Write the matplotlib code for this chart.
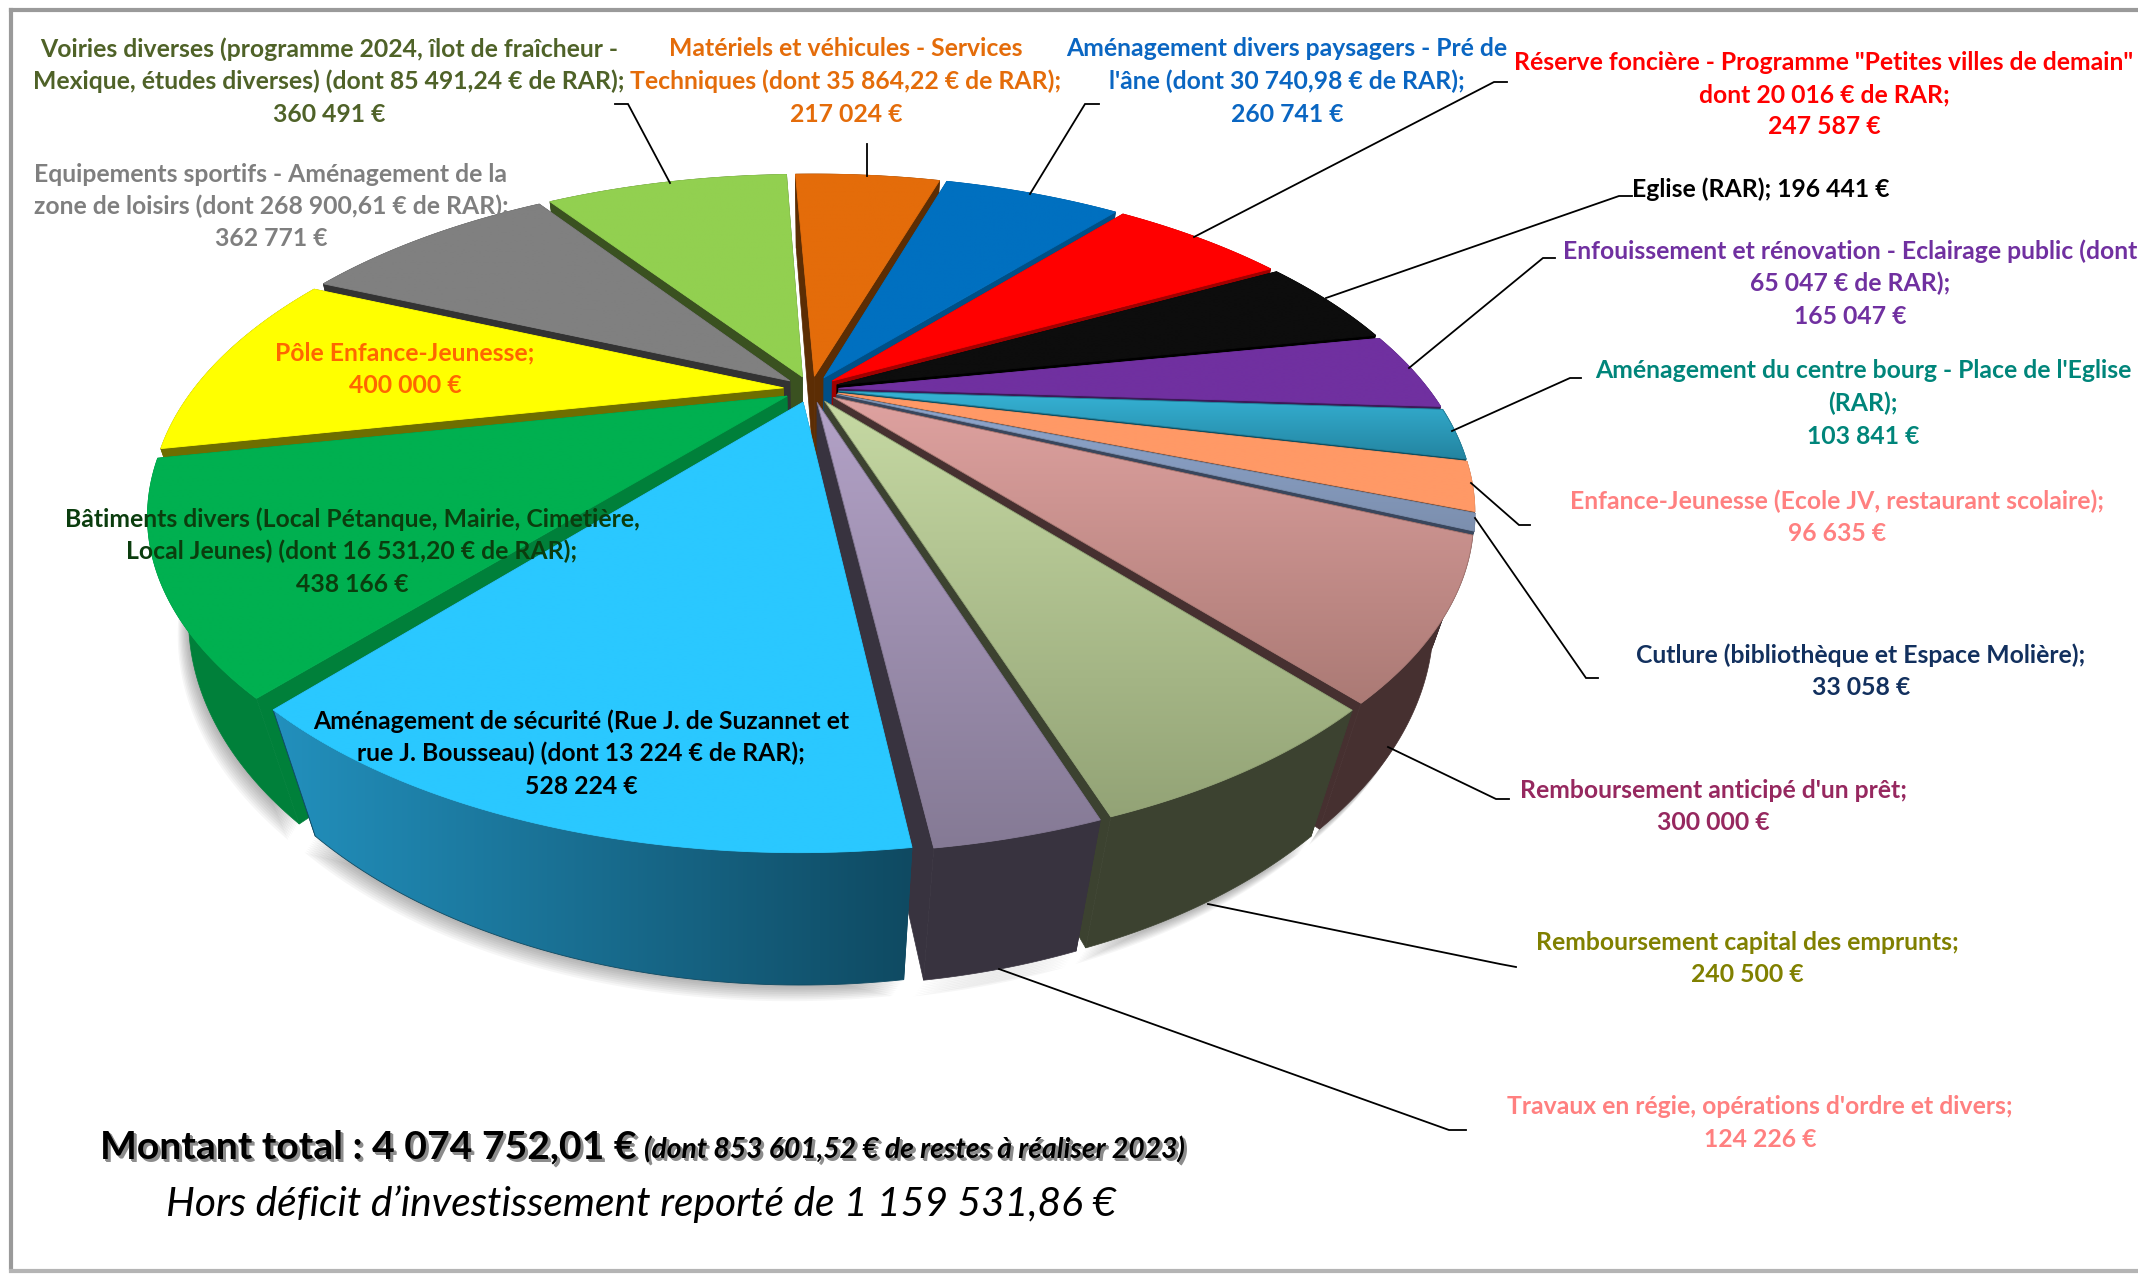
# -*- coding: utf-8 -*-
"""
Exploded 3D pie of the investment budget, with a perspective projection of the disc
"""
import numpy as np
import matplotlib
matplotlib.use('Agg')
import matplotlib.pyplot as plt
from matplotlib.colors import to_rgb
from matplotlib.patches import Polygon

##########################################################################
## 1. Data, clockwise from the top of the pie
values = [217024, 260741, 247587, 196441, 165047, 103841, 96635, 33058,
          300000, 240500, 124226, 528224, 438166, 400000, 362771, 360491]

labels = ['Matériels et véhicules - Services\nTechniques (dont 35 864,22 € de RAR);\n217 024 €',
          'Aménagement divers paysagers - Pré de\nl\'âne (dont 30 740,98 € de RAR);\n260 741 €',
          'Réserve foncière - Programme "Petites villes de demain"\ndont 20 016 € de RAR;\n247 587 €',
          'Eglise (RAR); 196 441 €',
          'Enfouissement et rénovation - Eclairage public (dont\n65 047 € de RAR);\n165 047 €',
          'Aménagement du centre bourg - Place de l\'Eglise\n(RAR);\n103 841 €',
          'Enfance-Jeunesse (Ecole JV, restaurant scolaire);\n96 635 €',
          'Cutlure (bibliothèque et Espace Molière);\n33 058 €',
          'Remboursement anticipé d\'un prêt;\n300 000 €',
          'Remboursement capital des emprunts;\n240 500 €',
          'Travaux en régie, opérations d\'ordre et divers;\n124 226 €',
          'Aménagement de sécurité (Rue J. de Suzannet et\nrue J. Bousseau) (dont 13 224 € de RAR);\n528 224 €',
          'Bâtiments divers (Local Pétanque, Mairie, Cimetière,\nLocal Jeunes) (dont 16 531,20 € de RAR);\n438 166 €',
          'Pôle Enfance-Jeunesse;\n400 000 €',
          'Equipements sportifs - Aménagement de la\nzone de loisirs (dont 268 900,61 € de RAR);\n362 771 €',
          'Voiries diverses (programme 2024, îlot de fraîcheur -\nMexique, études diverses) (dont 85 491,24 € de RAR);\n360 491 €']

label_colors = ['#e46c0a', '#0a66c2', '#ff0000', '#000000', '#7030a0', '#00857a', '#ff8080', '#12305e',
                '#96285f', '#808000', '#ff8080', '#000000', '#0b3d0e', '#ff6600', '#7f7f7f', '#4f6228']
label_x = [846, 1287, 1824, 1761, 1850, 1863, 1837, 1861, 1713, 1747, 1760, 581, 352, 405, 271, 329]
label_y = [49, 49, 62, 189, 251, 371, 501, 655, 790, 942, 1107, 721, 519, 353, 174, 49]

# face colours: top of gradient, bottom of gradient, side
face_top = ['#e46c0a', '#0070c0', '#ff0000', '#0d0d0d', '#7030a0', '#36b3d6', '#ff9966', '#8fa7cf',
            '#dfa2a0', '#c6d9a3', '#b3a2c7', '#2ac8ff', '#00b050', '#ffff00', '#808080', '#92d050']
face_bot = ['#e46c0a', '#0070c0', '#ff0000', '#0d0d0d', '#7030a0', '#2384a0', '#ff9966', '#7c8fae',
            '#ab7a75', '#93a376', '#857a95', '#2ac8ff', '#00b050', '#ffff00', '#808080', '#92d050']
side = ['#5c2d04', '#004f86', '#a00000', '#000000', '#3c1a58', '#0f4f60', '#7a4a30', '#39465c',
        '#463030', '#3c4230', '#38333f', '#164f68', '#00803a', '#6e6e00', '#333333', '#3a5120']

# leader lines, label end first
leaders = [[(867, 144), (867, 176)],
           [(1099, 104), (1085, 104), (1030, 194)],
           [(1507, 82), (1494, 82), (1194, 237)],
           [(1632, 196), (1619, 196), (1326, 298)],
           [(1555, 258), (1543, 258), (1409, 368)],
           [(1581, 378), (1570, 378), (1452, 431)],
           [(1530, 525), (1519, 525), (1471, 483)],
           [(1598, 678), (1586, 678), (1475, 518)],
           [(1509, 799), (1496, 799), (1388, 747)],
           [(1516, 967), (1500, 964), (1208, 904)],
           [(1466, 1130), (1449, 1130), (999, 969)],
           [(615, 104), (628, 104), (670, 183)]]

##########################################################################
## 2. Projection of the disc onto the picture
W, H = 2138, 1275
START = -2.4      # angle of the first slice, degrees clockwise from the top
EXPLODE = 0.045
RADIUS = 0.955
K = -0.367        # moves the pie centre towards the back of the ellipse

TOP = (811, 514, 664, 340)      # centre x, centre y, half width, half height
VANISH = np.array([818, 2345])  # the walls of the pie converge here


def disc(x, y):
    d = 1 + K * y
    return x * np.sqrt(1 - K ** 2) / d, (y + K) / d


def place_top(x, y):
    nx, ny = disc(x, y)
    return np.column_stack([TOP[0] + nx * TOP[2], TOP[1] + ny * TOP[3]])


def place_bottom(x, y):
    nx, ny = disc(x, y)
    p = np.column_stack([TOP[0] + nx * TOP[2], TOP[1] + ny * TOP[3]])
    s = (0.0614 + 0.0274 * ny)[:, None]
    return p + s * (VANISH - p)


def slice_xy(t1, t2, n=60):
    mid = np.radians((t1 + t2) / 2)
    t = np.radians(np.linspace(t1, t2, n))
    ox, oy = EXPLODE * np.sin(mid), -EXPLODE * np.cos(mid)
    return ox + RADIUS * np.sin(t), oy - RADIUS * np.cos(t), ox, oy


def fill_gradient(ax, xy, c0, c1, zorder, horizontal=False):
    c0, c1 = np.array(to_rgb(c0)), np.array(to_rgb(c1))
    ramp = np.linspace(0, 1, 256)[:, None]
    img = (c0 + (c1 - c0) * ramp)[None, :, :] if horizontal else (c0 + (c1 - c0) * ramp)[:, None, :]
    x0, x1, y0, y1 = xy[:, 0].min(), xy[:, 0].max(), xy[:, 1].min(), xy[:, 1].max()
    im = ax.imshow(img, extent=(x0, x1, y1, y0), aspect='auto', zorder=zorder, interpolation='bilinear')
    clip = Polygon(xy, closed=True, transform=ax.transData, fc='none', ec='none')
    im.set_clip_path(clip)
    # thin outline of the same colour to smooth the clipped edge
    ax.add_patch(Polygon(xy, closed=True, fc='none', ec=c1, lw=0.6, zorder=zorder))


##########################################################################
## 3. Figure
fig = plt.figure(figsize=(W / 100, H / 100), dpi=100, facecolor='white')
ax = fig.add_axes([0, 0, 1, 1])
ax.axis('off')

cum = np.cumsum([0] + values) / float(sum(values)) * 360 + START
slices = [(i, cum[i], cum[i + 1]) for i in range(len(values))]


def depth(s):
    # the slice that holds the front of the pie goes last
    if s[1] <= 180 <= s[2]:
        return 0
    return min(abs(s[1] - 180), abs(s[2] - 180))


# soft shadow under the pie
for off in range(18, 0, -2):
    for i, t1, t2 in slices:
        x, y, ox, oy = slice_xy(t1, t2)
        bot = place_bottom(x, y)
        bot = bot + [(-off * 0.6), off * 0.9]
        ax.add_patch(Polygon(bot, closed=True, fc='black', ec='none', alpha=0.035, zorder=1))

z = 2
for i, t1, t2 in sorted(slices, key=depth, reverse=True):
    x, y, ox, oy = slice_xy(t1, t2)
    top = place_top(x, y)
    bot = place_bottom(x, y)
    tip_top = place_top(np.array([ox]), np.array([oy]))
    tip_bot = place_bottom(np.array([ox]), np.array([oy]))

    # radial faces
    ax.add_patch(Polygon(np.vstack([tip_top, top[0], bot[0], tip_bot]), closed=True, fc=side[i], ec=side[i], lw=0.5, zorder=z))
    ax.add_patch(Polygon(np.vstack([tip_top, top[-1], bot[-1], tip_bot]), closed=True, fc=side[i], ec=side[i], lw=0.5, zorder=z))
    z += 1
    # outer wall
    wall = np.vstack([top, bot[::-1]])
    if labels[i].startswith('Aménagement de sécurité'):
        fill_gradient(ax, wall, '#2290bd', '#0f4a62', z, horizontal=True)
    else:
        ax.add_patch(Polygon(wall, closed=True, fc=side[i], ec=side[i], lw=0.5, zorder=z))
    z += 1
    # top face
    face = np.vstack([tip_top, top])
    fill_gradient(ax, face, face_top[i], face_bot[i], z)
    z += 1

ax.set_xlim(0, W)
ax.set_ylim(H, 0)

## leader lines
for pts in leaders:
    pts = np.array(pts)
    ax.plot(pts[:, 0], pts[:, 1], color='black', lw=1.3, zorder=z, solid_joinstyle='miter')

## labels, one text per line so the spacing stays put
LINE = 32.5
for lab, col, lx, ly in zip(labels, label_colors, label_x, label_y):
    for n, line in enumerate(lab.split('\n')):
        ax.text(lx, ly + n * LINE, line, color=col, ha='center', va='center', family='Lato',
                weight='bold', fontsize=17.8, zorder=z + 1)

## totals at the bottom
shadow = dict(color='#8c8c8c', zorder=z + 1, va='center', family='Lato')
for dx in (2, 3):
    ax.text(100 + dx, 1147 + dx, 'Montant total : 4 074 752,01 €', weight='bold', fontsize=28.2, **shadow)
    ax.text(644 + dx, 1150 + dx, '(dont 853 601,52 € de restes à réaliser 2023)', weight='bold', style='italic', fontsize=20.3, **shadow)
ax.text(100, 1147, 'Montant total : 4 074 752,01 €', weight='bold', fontsize=28.2, color='black', va='center', family='Lato', zorder=z + 2)
ax.text(644, 1150, '(dont 853 601,52 € de restes à réaliser 2023)', weight='bold', style='italic', fontsize=20.3, color='black', va='center', family='Lato', zorder=z + 2)
ax.text(166, 1204, 'Hors déficit d’investissement reporté de 1 159 531,86 €', style='italic', fontsize=29.3, color='black', va='center', family='Lato', zorder=z + 2)

## picture frame
ax.plot([11, 11], [1268, 10], color='#9a9a9a', lw=3, zorder=z)
ax.plot([11, W], [10, 10], color='#9a9a9a', lw=3, zorder=z)
ax.plot([11, W], [1271, 1271], color='#b4b4b4', lw=3, zorder=z)

fig.savefig('out.png', dpi=100, facecolor='white')
